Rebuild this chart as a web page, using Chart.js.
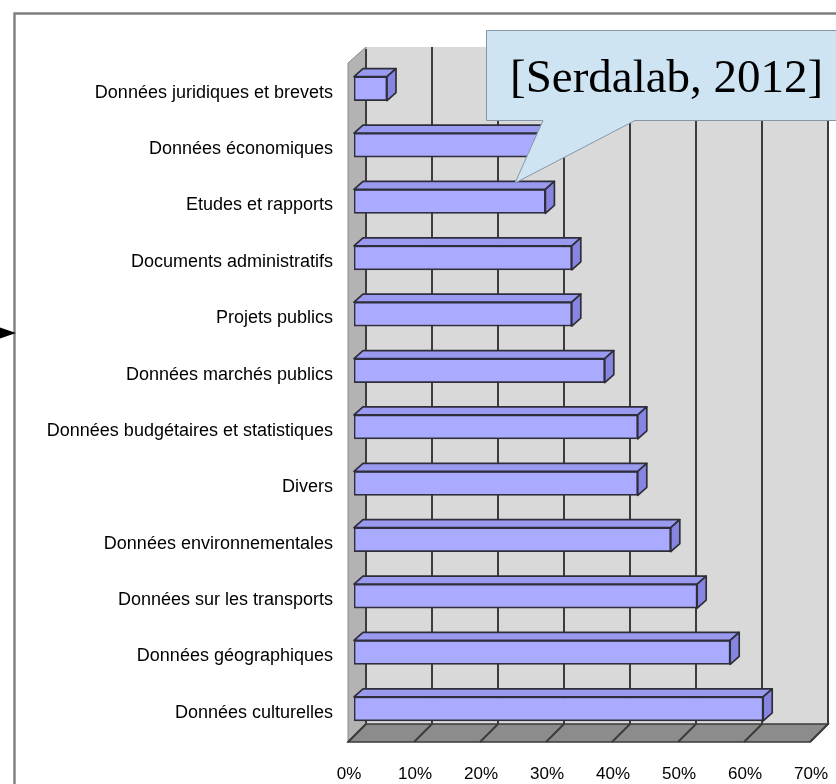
<!DOCTYPE html>
<html>
<head>
<meta charset="utf-8">
<script src="https://cdn.jsdelivr.net/npm/chart.js@4.4.1/dist/chart.umd.min.js"></script>
<style>
  html, body { margin: 0; padding: 0; background: #fff; }
  #wrap { position: relative; width: 836px; height: 784px; }
</style>
</head>
<body>
<div id="wrap"><canvas id="chart"></canvas></div>
<script>
// categories, top to bottom
const categories = [
  'Données juridiques et brevets',
  'Données économiques',
  'Etudes et rapports',
  'Documents administratifs',
  'Projets publics',
  'Données marchés publics',
  'Données budgétaires et statistiques',
  'Divers',
  'Données environnementales',
  'Données sur les transports',
  'Données géographiques',
  'Données culturelles'
];
// share of datasets (%)
const shares = [5, 29, 29, 33, 33, 38, 43, 43, 48, 52, 57, 62];
const xTickLabels = ['0%', '10%', '20%', '30%', '40%', '50%', '60%', '70%'];
const sourceNote = '[Serdalab, 2012]';

// 3D box: back wall, side wall, floor and gridlines
const box3d = {
  id: 'box3d',
  beforeDatasetsDraw(chart) {
    const { ctx, chartArea: a, scales: { x } } = chart;
    const back = 12, front = -6;            // horizontal depth offsets
    const backY = a.bottom - 13, frontY = a.bottom + 5;
    const topY = a.top - 13.5, sideTop = topY + 16;
    const xb0 = x.getPixelForValue(0) + back, xf0 = x.getPixelForValue(0) + front;
    const xb1 = x.getPixelForValue(70) + back, xf1 = x.getPixelForValue(70) + front;
    ctx.save();
    // back wall
    ctx.fillStyle = '#d9d9d9';
    ctx.fillRect(xb0, topY, xb1 - xb0, backY - topY);
    // side wall
    ctx.beginPath();
    ctx.moveTo(xf0, sideTop); ctx.lineTo(xb0, topY); ctx.lineTo(xb0, backY); ctx.lineTo(xf0, frontY);
    ctx.closePath();
    ctx.fillStyle = '#b3b3b3';
    ctx.fill();
    ctx.strokeStyle = '#8a8a8a'; ctx.lineWidth = 1;
    ctx.stroke();
    // floor
    ctx.beginPath();
    ctx.moveTo(xf0, frontY); ctx.lineTo(xb0, backY); ctx.lineTo(xb1, backY); ctx.lineTo(xf1, frontY);
    ctx.closePath();
    ctx.fillStyle = '#8c8c8c';
    ctx.fill();
    ctx.strokeStyle = '#3a3a3a'; ctx.lineWidth = 1.5;
    ctx.stroke();
    // gridlines on wall + floor
    ctx.strokeStyle = '#3c3c3c'; ctx.lineWidth = 2;
    x.ticks.forEach(t => {
      const px = x.getPixelForValue(t.value);
      ctx.beginPath();
      ctx.moveTo(px + back, t.value > 0 ? topY : topY + 2);
      ctx.lineTo(px + back, backY);
      ctx.lineTo(px + front, frontY);
      ctx.stroke();
    });
    ctx.restore();
  },
  afterDatasetsDraw(chart) {
    const { ctx } = chart;
    const dx = 9, dy = 8;
    ctx.save();
    ctx.lineJoin = 'round';
    ctx.strokeStyle = '#2e2e3a'; ctx.lineWidth = 1.7;
    chart.getDatasetMeta(0).data.forEach(bar => {
      const { x, y, base, height } = bar.getProps(['x', 'y', 'base', 'height'], true);
      const t = y - height / 2, b = y + height / 2;
      // top face
      ctx.beginPath();
      ctx.moveTo(base, t); ctx.lineTo(base + dx, t - dy); ctx.lineTo(x + dx, t - dy); ctx.lineTo(x, t);
      ctx.closePath();
      ctx.fillStyle = '#9a9af0'; ctx.fill(); ctx.stroke();
      // side face
      ctx.beginPath();
      ctx.moveTo(x, t); ctx.lineTo(x + dx, t - dy); ctx.lineTo(x + dx, b - dy); ctx.lineTo(x, b);
      ctx.closePath();
      ctx.fillStyle = '#8686e2'; ctx.fill(); ctx.stroke();
    });
    ctx.restore();
  },
  afterDraw(chart) {
    const { ctx } = chart;
    ctx.save();
    // outer frame
    ctx.strokeStyle = '#7f7f7f'; ctx.lineWidth = 2.4;
    ctx.beginPath();
    ctx.moveTo(14.5, 790); ctx.lineTo(14.5, 13.5); ctx.lineTo(840, 13.5);
    ctx.stroke();
    // arrow head at left
    ctx.fillStyle = '#000';
    ctx.beginPath();
    ctx.moveTo(0, 327.5); ctx.lineTo(16, 333); ctx.lineTo(0, 338.5);
    ctx.closePath(); ctx.fill();
    // callout
    ctx.beginPath();
    ctx.moveTo(486.5, 30.5); ctx.lineTo(850, 30.5); ctx.lineTo(850, 120.5);
    ctx.lineTo(635, 120.5); ctx.lineTo(515, 183); ctx.lineTo(543, 120.5);
    ctx.lineTo(486.5, 120.5); ctx.closePath();
    ctx.fillStyle = '#cfe4f3'; ctx.fill();
    ctx.strokeStyle = '#8497a8'; ctx.lineWidth = 1; ctx.stroke();
    ctx.fillStyle = '#000';
    ctx.font = '47px "Liberation Serif", "Times New Roman", serif';
    ctx.textAlign = 'left'; ctx.textBaseline = 'alphabetic';
    ctx.fillText(sourceNote, 510, 92);
    ctx.restore();
  }
};

new Chart(document.getElementById('chart'), {
  type: 'bar',
  data: {
    labels: categories,
    datasets: [{
      data: shares,
      backgroundColor: '#aaaaff',
      borderColor: '#2e2e3a',
      borderWidth: 1.7,
      borderSkipped: false,
      barThickness: 24
    }]
  },
  options: {
    indexAxis: 'y',
    responsive: true,
    maintainAspectRatio: false,
    animation: false,
    layout: { padding: { top: 60.5, right: 20, bottom: 0, left: 0 } },
    plugins: { legend: { display: false }, tooltip: { enabled: false } },
    scales: {
      x: {
        min: 0, max: 70,
        grid: { display: false },
        border: { display: false },
        afterFit: s => { s.height = 47; s.paddingLeft = 0; s.paddingRight = 0; },
        ticks: {
          stepSize: 10,
          padding: 19,
          labelOffset: -5,
          color: '#000',
          font: { family: '"Liberation Sans", Arial, sans-serif', size: 17 },
          callback: (v, i) => xTickLabels[i]
        }
      },
      y: {
        grid: { display: false, drawTicks: false },
        border: { display: false },
        afterFit: s => { s.width = 354; s.paddingTop = 0; s.paddingBottom = 0; },
        ticks: {
          padding: 21,
          labelOffset: 4,
          color: '#000',
          font: { family: '"Liberation Sans", Arial, sans-serif', size: 18 }
        }
      }
    }
  },
  plugins: [box3d]
});
</script>
</body>
</html>
